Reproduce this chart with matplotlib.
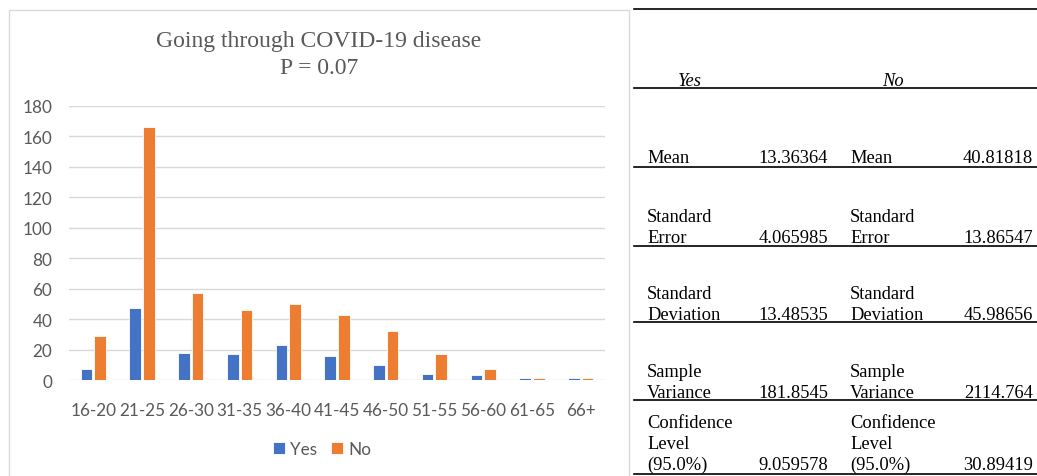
import numpy as np
import matplotlib.pyplot as plt
from matplotlib.lines import Line2D
from matplotlib.patches import Rectangle

# age groups and counts of people who went through COVID-19 (yes / no)
age_groups = ['16-20', '21-25', '26-30', '31-35', '36-40', '41-45',
              '46-50', '51-55', '56-60', '61-65', '66+']
yes_counts = [7, 47, 18, 17, 23, 16, 10, 4, 3, 1, 1]
no_counts = [29, 166, 57, 46, 50, 43, 32, 17, 7, 1, 1]
p_value = 0.07
t_crit = 2.228138852  # two-sided 95% t value, df = 10

W, H = 1037, 477
BLUE = '#4472C4'
ORANGE = '#ED7D31'
GREY_TXT = '#595959'
GRID = '#d9d9d9'


def fx(x):
    return x / W


def fy(y):
    return 1 - y / H


def describe(vals):
    v = np.array(vals, dtype=float)
    var = v.var(ddof=1)
    sd = np.sqrt(var)
    se = sd / np.sqrt(len(v))
    return {'mean': v.mean(), 'se': se, 'sd': sd, 'var': var, 'ci': se * t_crit}


fig = plt.figure(figsize=(W / 100, H / 100), dpi=100)

# chart frame
fig.patches.append(Rectangle((fx(9), fy(490)), fx(629) - fx(9), fy(11) - fy(490),
                             transform=fig.transFigure, fill=False,
                             edgecolor=GRID, linewidth=1))

ax = fig.add_axes([fx(69), fy(381), fx(605) - fx(69), fy(107) - fy(381)])
x = np.arange(len(age_groups))
w = 0.24
ax.bar(x - 0.14, yes_counts, w, color=BLUE, edgecolor='white', linewidth=0.6, label='Yes')
ax.bar(x + 0.14, no_counts, w, color=ORANGE, edgecolor='white', linewidth=0.6, label='No')

ax.set_xlim(-0.5, len(age_groups) - 0.5)
ax.set_ylim(0, 180)
ax.set_yticks(np.arange(0, 181, 20))
ax.yaxis.grid(True, color=GRID, linewidth=1)
ax.set_axisbelow(True)
for s in ax.spines.values():
    s.set_visible(False)
ax.tick_params(length=0, labelsize=12.3, labelcolor=GREY_TXT)
ax.tick_params(axis='y', pad=12)
ax.tick_params(axis='x', pad=16)
ax.set_xticks(x)
ax.set_xticklabels(age_groups)
for lab in ax.get_xticklabels() + ax.get_yticklabels():
    lab.set_family('Lato')

fig.text(fx(319), fy(41), 'Going through COVID-19 disease', ha='center', va='center',
         family='Liberation Serif', fontsize=17, color=GREY_TXT)
fig.text(fx(319), fy(68), f'P = {p_value}', ha='center', va='center',
         family='Liberation Serif', fontsize=17, color=GREY_TXT)

fig.legend(loc='center', bbox_to_anchor=(fx(322), fy(450)), ncol=2, frameon=False,
           prop={'family': 'Lato', 'size': 12.3}, labelcolor=GREY_TXT,
           handlelength=0.7, handleheight=0.7, handletextpad=0.3, columnspacing=0.8)

# descriptive statistics table
stats_yes = describe(yes_counts)
stats_no = describe(no_counts)
rows = [
    (['Mean'], 'mean', 163),
    (['Standard', 'Error'], 'se', 243),
    (['Standard', 'Deviation'], 'sd', 320),
    (['Sample', 'Variance'], 'var', 398),
    (['Confidence', 'Level', '(95.0%)'], 'ci', 470),
]
rule_y = [10, 89, 168, 247, 323, 401, 475]
for ry in rule_y:
    fig.add_artist(Line2D([fx(634), fx(1037)], [fy(ry), fy(ry)], transform=fig.transFigure,
                          color='black', linewidth=1.2))

tkw = dict(family='Liberation Serif', fontsize=13.3, color='black', va='baseline')
fig.text(fx(690), fy(86), 'Yes', ha='center', style='italic', **tkw)
fig.text(fx(893), fy(86), 'No', ha='center', style='italic', **tkw)
for labels, key, base in rows:
    n = len(labels)
    for i, lab in enumerate(labels):
        yb = base - (n - 1 - i) * 21
        fig.text(fx(647), fy(yb), lab, ha='left', **tkw)
        fig.text(fx(850), fy(yb), lab, ha='left', **tkw)
    fig.text(fx(828), fy(base), f'{stats_yes[key]:.7g}', ha='right', **tkw)
    fig.text(fx(1033), fy(base), f'{stats_no[key]:.7g}', ha='right', **tkw)

fig.savefig('out.png', dpi=100)
